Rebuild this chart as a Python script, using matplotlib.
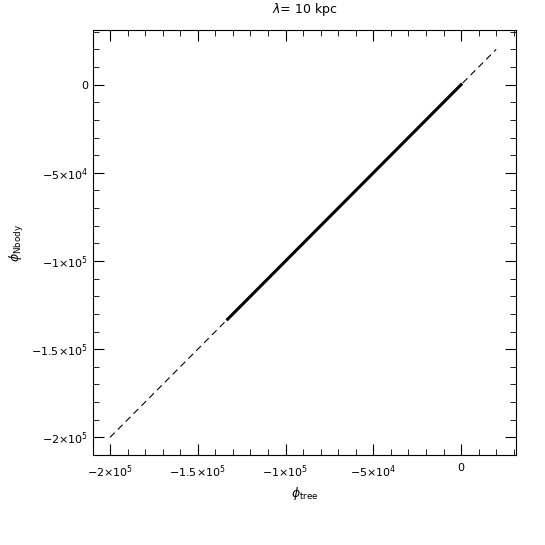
import matplotlib
matplotlib.use("Agg")
import matplotlib.pyplot as plt
from matplotlib.ticker import MultipleLocator

# dashed identity line endpoints and the solid data segment
line_x = [-2.0e5, 2.0e4]
data_tree = [-1.33e5, -1.0e5, -5.0e4, -2.0e4, 0.0]
data_nbody = [-1.33e5, -1.0e5, -5.0e4, -2.0e4, 0.0]

major_ticks = [-2.0e5, -1.5e5, -1.0e5, -5.0e4, 0.0]
tick_labels = [r"$-2{\times}10^5$", r"$-1.5{\times}10^5$", r"$-1{\times}10^5$",
               r"$-5{\times}10^4$", "0"]

fig = plt.figure(figsize=(5.45, 5.45), dpi=100)
ax = fig.add_axes([93 / 545, 1 - 455 / 545, 423 / 545, 425 / 545])

ax.plot(line_x, line_x, color="black", lw=0.8, dashes=(6, 4))
ax.plot(data_tree, data_nbody, color="black", lw=2.2)

ax.set_xlim(-2.097e5, 3.13e4)
ax.set_ylim(-2.1e5, 3.1e4)
ax.set_xticks(major_ticks)
ax.set_xticklabels(tick_labels)
ax.set_yticks(major_ticks)
ax.set_yticklabels(tick_labels)
ax.xaxis.set_minor_locator(MultipleLocator(1e4))
ax.yaxis.set_minor_locator(MultipleLocator(1e4))
ax.tick_params(which="both", direction="in", top=True, right=True, labelsize=8)
ax.tick_params(which="major", length=8)
ax.tick_params(which="minor", length=4)
ax.tick_params(axis="x", pad=6)

ax.set_xlabel(r"$\phi_{\rm tree}$", fontsize=9)
ax.set_ylabel(r"$\phi_{\rm Nbody}$", fontsize=9)
ax.set_title(r"$\lambda$= 10 kpc", fontsize=9, pad=12)

fig.savefig("out.png", dpi=100)
